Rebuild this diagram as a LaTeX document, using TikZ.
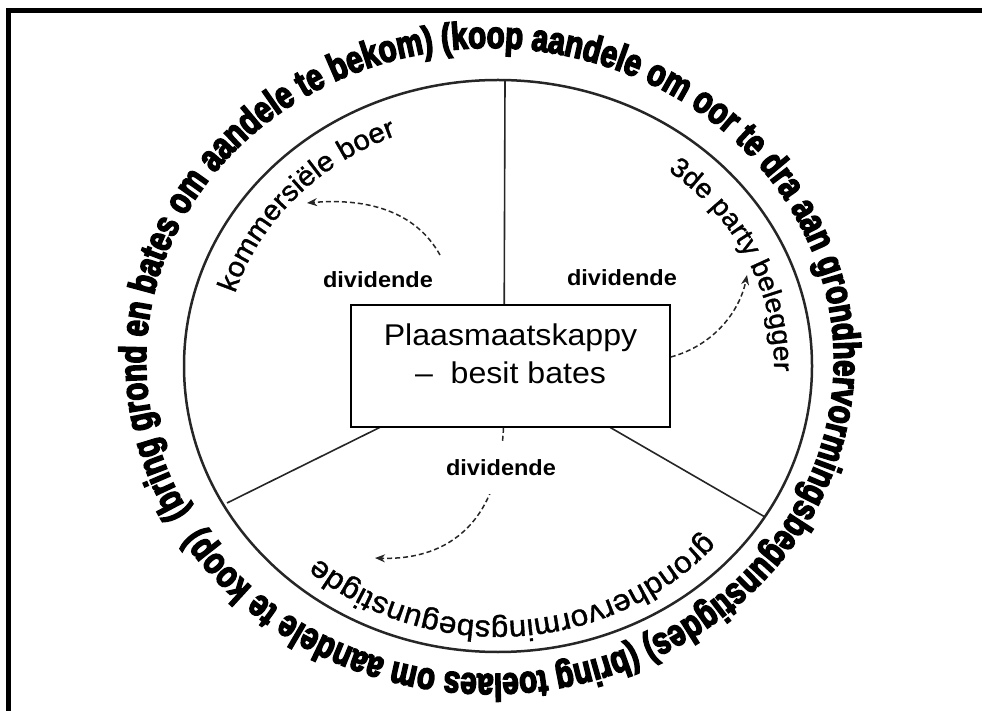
\documentclass[tikz,border=0pt]{standalone}
\usepackage{fontspec}
\setmainfont{Liberation Sans}
\newfontfamily\ringfont{Liberation Sans}[FakeStretch=0.775,FakeBold=4]
\newfontfamily\wedgefont{Liberation Sans}[FakeStretch=1.07]
\newfontfamily\sharefont{Liberation Sans}[FakeStretch=1.05,FakeBold=1.2]
\usetikzlibrary{arrows.meta,decorations.text}

\tikzset{
  ring/.style={line width=2.5pt, black!85},
  spoke/.style={line width=1.6pt, black!85},
  companybox/.style={draw, fill=white, line width=1.6pt, inner sep=0pt,
    minimum width=319pt, minimum height=122pt},
  companytext/.style={font=\wedgefont\fontsize{30}{38}\selectfont, align=center, inner sep=0pt},
  divlabel/.style={font=\wedgefont\bfseries\fontsize{22}{22}\selectfont, fill=white, inner xsep=4pt},
  divflow/.style={dash pattern=on 5pt off 3pt, line width=1.5pt, black!85,
    -{Stealth[length=10pt,width=8pt]}},
  ringtext/.style={decorate, decoration={text along path, text align=left,
    text={|\ringfont\bfseries\fontsize{38}{38}\selectfont|#1}}},
  wedgetext/.style 2 args={decorate, decoration={text along path, text align=left,
    text={|\sharefont\fontsize{#1}{#1}\selectfont|#2}}}
}

\begin{document}
\begin{tikzpicture}[x=1pt,y=1pt]
  \useasboundingbox (0,0) rectangle (982,710);
  \clip (0,0) rectangle (982,710);
  % frame
  \draw[line width=5pt] (8.5,-20) |- (1000,699.5);

  % ring and wedges
  \coordinate (ctr) at (498,344);
  \coordinate (hub) at (504,344);
  \coordinate (outerctr) at (490,349);
  \draw[ring] (ctr) ellipse[x radius=314, y radius=286];
  \coordinate (spokeN) at (505,629);
  \coordinate (spokeSW) at (227,207);
  \coordinate (spokeSE) at (765,193);
  \draw[spoke] (hub) -- (spokeN);
  \draw[spoke] (hub) -- (spokeSW);
  \draw[spoke] (hub) -- (spokeSE);

  % company in the middle
  \node[companybox] (farm) at (510.5,344) {};
  \node[companytext] (farmtext) at (510.5,356) {Plaasmaatskappy\\–\ \ besit bates};

  % dividend flows
  \coordinate (boerflow) at (440,455);
  \coordinate (boertip) at (307,507);
  \coordinate (partytip) at (747,435);
  \coordinate (begtip) at (375,152);
  \draw[divflow] (boerflow) .. controls (415,500) and (365,512) .. (boertip);
  \draw[divflow] ([yshift=9pt]farm.east) .. controls (715,365) and (740,400) .. (partytip);
  \draw[divflow] ([xshift=-7pt]farm.south) .. controls (498,170) and (430,150) .. (begtip);
  \node[divlabel] (div1) at (378,430) {dividende};
  \node[divlabel] (div2) at (622,432) {dividende};
  \node[divlabel, inner ysep=18pt] (div3) at (501,242) {dividende};

  % shareholders inside the ring
  \path[wedgetext={28}{kommersiële boer}] ([shift={(163:275 and 248)}]ctr)
    arc[start angle=163, end angle=60, x radius=275, y radius=248];
  \path[wedgetext={27}{3de party belegger}] ([shift={(52:276 and 248)}]ctr)
    arc[start angle=52, end angle=-60, x radius=276, y radius=248];
  \path[wedgetext={30}{grondhervormingsbegunstigde}] ([shift={(-41:274 and 255)}]ctr)
    arc[start angle=-41, end angle=-170, x radius=274, y radius=255];

  % text round the ring
  \path[ringtext={(bring grond en bates om aandele te bekom) (koop aandele om oor te dra aan grondhervormingsbegunstigdes)  (bring toelaes om aandele te koop)}]
    ([shift={(209:344 and 313)}]outerctr)
    arc[start angle=209, end angle=-149, x radius=344, y radius=313];
\end{tikzpicture}
\end{document}
